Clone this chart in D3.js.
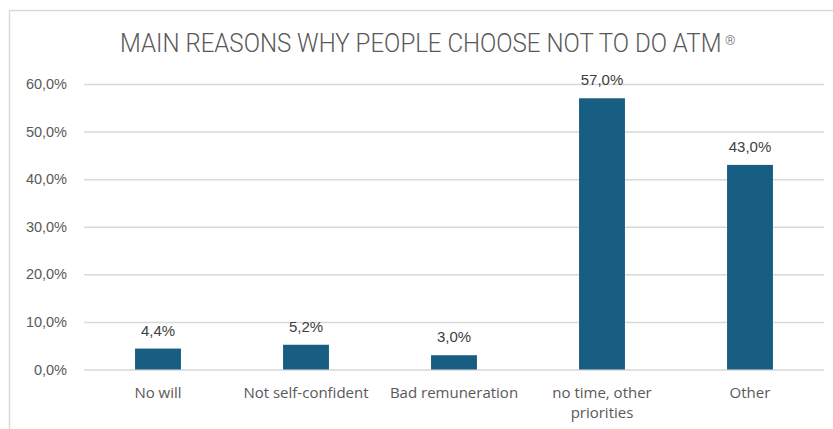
<!DOCTYPE html>
<html><head><meta charset="utf-8">
<script src="https://cdn.jsdelivr.net/npm/d3@7"></script>
<style>html,body{margin:0;padding:0;background:#fff;}svg{display:block;}</style>
</head><body>
<svg id="c" width="833" height="429"></svg>
<script>
const title = "MAIN REASONS WHY PEOPLE CHOOSE NOT TO DO ATM";
const titleMark = "®";
const categories = ["No will", "Not self-confident", "Bad remuneration", "no time, other priorities", "Other"];
const categoryLines = [["No will"], ["Not self-confident"], ["Bad remuneration"], ["no time, other", "priorities"], ["Other"]];
const values = [4.4, 5.2, 3.0, 57.0, 43.0];
const yTicks = [0, 10, 20, 30, 40, 50, 60];

const svg = d3.select("#c");
const fmt = v => v.toFixed(1).replace(".", ",") + "%";
const font = "'Liberation Sans', Arial, sans-serif";
const textColor = "#595959";

// outer frame
svg.append("line").attr("x1", 9.5).attr("x2", 833).attr("y1", 10.5).attr("y2", 10.5).attr("stroke", "#d9d9d9").attr("stroke-width", 1.5);
svg.append("line").attr("x1", 9.5).attr("x2", 9.5).attr("y1", 10.5).attr("y2", 429).attr("stroke", "#d9d9d9").attr("stroke-width", 1.5);

const tfont = "Roboto, 'Liberation Sans', sans-serif";
const tg = svg.append("g");
const tt = tg.append("text").attr("x", 0).attr("y", 0).attr("font-family", tfont)
  .attr("font-weight", 300).attr("font-size", 25).attr("fill", textColor).text(title);
const natural = tt.node().getComputedTextLength();
const titleW = 602;
tg.attr("transform", `translate(120,52) scale(${titleW / natural},1)`);
svg.append("text").attr("x", 120 + titleW + 3).attr("y", 45).attr("font-family", tfont)
  .attr("font-weight", 300).attr("font-size", 13).attr("fill", textColor).text(titleMark);

const x = d3.scaleBand().domain(categories).range([84, 824]).paddingInner(0.69).paddingOuter(0.345);
const y = d3.scaleLinear().domain([0, 60]).range([369.5, 84]);

const grid = svg.append("g").attr("transform", "translate(84,0)")
  .call(d3.axisLeft(y).tickValues(yTicks).tickSize(-740).tickFormat(fmt).tickPadding(17));
grid.select(".domain").remove();
grid.selectAll(".tick line").attr("stroke", "#d9d9d9").attr("stroke-width", 1.5);
grid.selectAll(".tick text").attr("font-family", font).attr("font-size", 14.5).attr("fill", textColor);

svg.append("g").selectAll("rect").data(values).join("rect")
  .attr("x", (d, i) => x(categories[i])).attr("width", x.bandwidth())
  .attr("y", d => y(d)).attr("height", d => y(0) - y(d)).attr("fill", "#175E82");

svg.append("g").selectAll("text").data(values).join("text")
  .attr("x", (d, i) => x(categories[i]) + x.bandwidth() / 2).attr("y", d => y(d) - 13)
  .attr("text-anchor", "middle").attr("font-family", font).attr("font-size", 15).attr("fill", "#404040")
  .text(fmt);

const xl = svg.append("g").selectAll("text").data(categories).join("text")
  .attr("x", d => x(d) + x.bandwidth() / 2).attr("y", 398)
  .attr("text-anchor", "middle").attr("font-family", "'Open Sans', sans-serif").attr("font-size", 15).attr("fill", textColor);
xl.each(function (d, i) {
  categoryLines[i].forEach((ln, j) => {
    d3.select(this).append("tspan").attr("x", x(d) + x.bandwidth() / 2).attr("dy", j === 0 ? 0 : 20).text(ln);
  });
});
</script>
</body></html>
